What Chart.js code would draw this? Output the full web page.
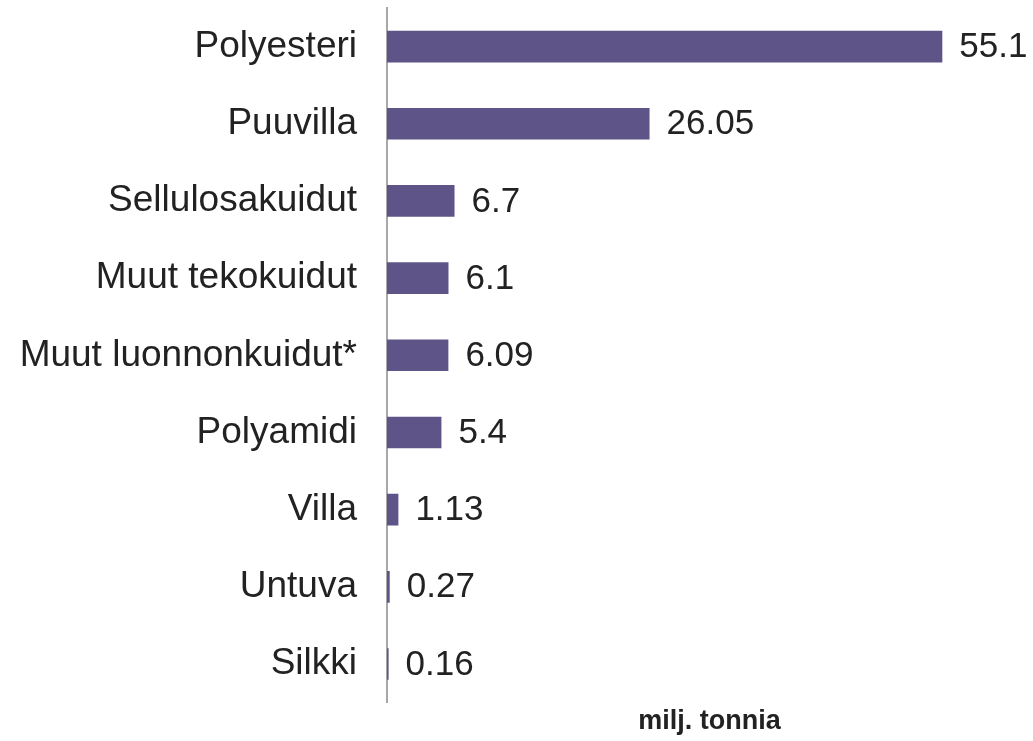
<!DOCTYPE html>
<html>
<head>
<meta charset="utf-8">
<script src="https://cdn.jsdelivr.net/npm/chart.js@4"></script>
<style>
  html, body { margin: 0; padding: 0; background: #fff; }
  #wrap { width: 1033px; height: 741px; }
</style>
</head>
<body>
<div id="wrap"><canvas id="fiberChart"></canvas></div>
<script>
var categories = ['Polyesteri', 'Puuvilla', 'Sellulosakuidut', 'Muut tekokuidut', 'Muut luonnonkuidut*', 'Polyamidi', 'Villa', 'Untuva', 'Silkki'];
var amounts = [55.1, 26.05, 6.7, 6.1, 6.09, 5.4, 1.13, 0.27, 0.16];
var axisTitle = 'milj. tonnia';

var FONT = '"Liberation Sans", Arial, sans-serif';

var valueLabels = {
  id: 'valueLabels',
  afterDatasetsDraw: function(chart) {
    var ctx = chart.ctx;
    var meta = chart.getDatasetMeta(0);
    ctx.save();
    ctx.font = '35px ' + FONT;
    ctx.fillStyle = '#222222';
    ctx.textAlign = 'left';
    ctx.textBaseline = 'middle';
    meta.data.forEach(function(bar, i) {
      ctx.fillText(String(amounts[i]), bar.x + 17, bar.y + 1);
    });
    ctx.restore();
  }
};

document.addEventListener('DOMContentLoaded', function(){
  var ctx = document.getElementById('fiberChart').getContext('2d');
  new Chart(ctx, {
    type: 'bar',
    data: {
      labels: categories,
      datasets: [{
        data: amounts,
        backgroundColor: '#5e5488',
        borderWidth: 0,
        categoryPercentage: 1,
        barPercentage: 0.41
      }]
    },
    options: {
      indexAxis: 'y',
      responsive: true,
      maintainAspectRatio: false,
      animation: false,
      layout: { padding: { top: 8, right: 1, left: 0, bottom: 0 } },
      plugins: {
        legend: { display: false },
        tooltip: { enabled: false }
      },
      scales: {
        x: {
          min: 0,
          max: 64,
          grid: { display: false, drawTicks: false },
          border: { display: false },
          ticks: { display: false },
          title: {
            display: true,
            text: axisTitle,
            color: '#222222',
            font: { family: FONT, size: 27, weight: 'bold' },
            padding: { top: 3, bottom: 3 }
          }
        },
        y: {
          grid: { display: false, drawTicks: false },
          border: { display: true, color: '#a8a8a8', width: 2 },
          ticks: {
            color: '#222222',
            padding: 30,
            font: { family: FONT, size: 37 }
          },
          afterFit: function(scale) {
            scale.width = 387;
            scale.paddingTop = 0;
            scale.paddingBottom = 0;
          }
        }
      }
    },
    plugins: [valueLabels]
  });
});
</script>
</body>
</html>
